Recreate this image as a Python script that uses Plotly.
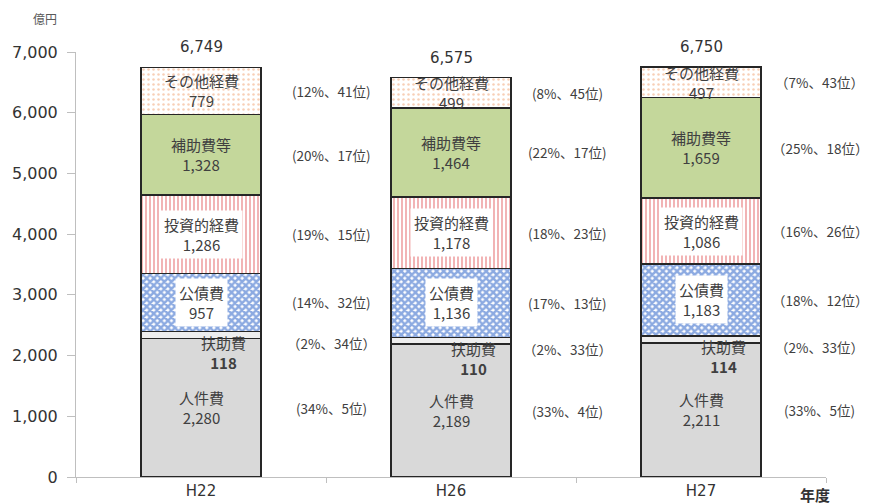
import plotly.graph_objects as go

years = ["H22", "H26", "H27"]
categories = ["人件費", "扶助費", "公債費", "投資的経費", "補助費等", "その他経費"]
values = {
    "人件費": [2280, 2189, 2211],
    "扶助費": [118, 110, 114],
    "公債費": [957, 1136, 1183],
    "投資的経費": [1286, 1178, 1086],
    "補助費等": [1328, 1464, 1659],
    "その他経費": [779, 499, 497],
}
totals = [6749, 6575, 6750]
pct_labels = {
    "人件費": ["(34%、5位)", "(33%、4位)", "(33%、5位)"],
    "扶助費": ["（2%、34位）", "（2%、33位）", "（2%、33位）"],
    "公債費": ["(14%、32位)", "(17%、13位)", "（18%、12位）"],
    "投資的経費": ["(19%、15位)", "(18%、23位)", "（16%、26位）"],
    "補助費等": ["(20%、17位)", "(22%、17位)", "（25%、18位）"],
    "その他経費": ["(12%、41位)", "(8%、45位)", "（7%、43位）"],
}

JP = "Noto Sans CJK JP"
NUM = "DejaVu Sans"
TXT = "#404040"
PCT_OFFSET = [0.52, 0.465, 0.475]

styles = {
    "人件費": dict(color="#d9d9d9"),
    "扶助費": dict(color="#eeeeee"),
    "公債費": dict(color="white", pattern=dict(shape="x", fgcolor="#1a56c4", bgcolor="white", size=5, solidity=0.72)),
    "投資的経費": dict(color="white", pattern=dict(shape="|", fgcolor="#d9262b", bgcolor="white", size=4, solidity=0.35)),
    "補助費等": dict(color="#c4d79b"),
    "その他経費": dict(color="white", pattern=dict(shape=".", fgcolor="#f0a070", bgcolor="white", size=5, solidity=0.2)),
}

fig = go.Figure()
for c in categories:
    fig.add_trace(go.Bar(
        x=years, y=values[c], name=c, width=0.48,
        marker=dict(line=dict(color="#262626", width=1.5), **styles[c]),
        hoverinfo="skip",
    ))

annotations = []
for i, yr in enumerate(years):
    base = 0
    for c in categories:
        v = values[c][i]
        mid = base + v / 2
        if c == "扶助費":
            annotations.append(dict(x=i + 0.09, y=base, yshift=-14, text=f"{c}<br><b>{v:,}</b>", showarrow=False,
                                    font=dict(family=JP, size=15, color=TXT)))
            annotations.append(dict(x=i + PCT_OFFSET[i], y=mid, yshift=-8, text=pct_labels[c][i], showarrow=False,
                                    xanchor="center", font=dict(family=JP, size=13.5, color=TXT)))
        else:
            boxed = c in ("公債費", "投資的経費")
            annotations.append(dict(x=i, y=mid, text=f"{c}<br>{v:,}", showarrow=False,
                                    font=dict(family=JP, size=15, color=TXT),
                                    bgcolor="white" if boxed else None, borderpad=3))
            annotations.append(dict(x=i + PCT_OFFSET[i], y=mid, text=pct_labels[c][i], showarrow=False,
                                    xanchor="center", font=dict(family=JP, size=13.5, color=TXT)))
        base += v
    annotations.append(dict(x=i, y=totals[i], yshift=20, text=f"{totals[i]:,}", showarrow=False,
                            font=dict(family=NUM, size=15, color="#333333")))

annotations.append(dict(x=0, y=1, xref="paper", yref="paper", text="億円", showarrow=False,
                        xanchor="center", yanchor="middle", xshift=-31, yshift=34,
                        font=dict(family=JP, size=12, color="#595959")))
annotations.append(dict(x=1, y=0, xref="paper", yref="paper", text="<b>年度</b>", showarrow=False,
                        xanchor="center", yanchor="middle", xshift=-11, yshift=-17,
                        font=dict(family=JP, size=15, color="#333333")))

fig.update_layout(
    barmode="stack",
    width=862, height=496,
    margin=dict(l=68, r=44, t=44, b=27, autoexpand=False),
    paper_bgcolor="white", plot_bgcolor="white",
    showlegend=False,
    annotations=annotations,
    xaxis=dict(range=[-0.5, 2.5], showline=True, linecolor="#bfbfbf", linewidth=1,
               ticks="outside", tickson="boundaries", ticklen=5, tickcolor="#bfbfbf",
               automargin=False,
               tickfont=dict(family=NUM, size=15, color="#333333"), showgrid=False),
    yaxis=dict(range=[0, 7000], dtick=1000, tickformat=",", showline=True, linecolor="#bfbfbf",
               ticks="outside", tickcolor="#bfbfbf", ticklen=8, ticklabelstandoff=6,
               showgrid=False, zeroline=False, automargin=False,
               tickfont=dict(family=NUM, size=16, color="#333333")),
)

fig.write_html("out.html")
